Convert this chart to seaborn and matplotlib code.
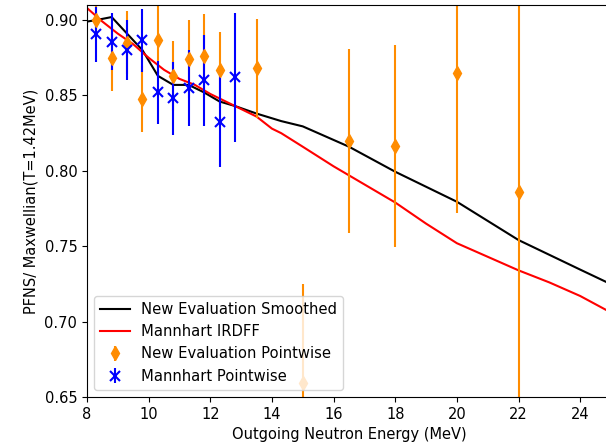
import matplotlib
matplotlib.use("Agg")
import matplotlib.pyplot as plt
import seaborn as sns
import numpy as np

# Smoothed evaluation (ratio to Maxwellian, T = 1.42 MeV)
smooth_e = [8.0, 8.3, 8.8, 9.3, 9.8, 10.3, 10.8, 11.3, 11.8, 12.3, 12.8, 13.5,
            14.3, 15.0, 16.5, 18.0, 20.0, 22.0, 24.0, 25.0]
smooth_v = [0.899, 0.900, 0.902, 0.891, 0.880, 0.863, 0.857, 0.857, 0.852, 0.846,
            0.843, 0.838, 0.833, 0.8295, 0.816, 0.7994, 0.7795, 0.7541, 0.7345, 0.7248]

# Mannhart IRDFF evaluation
irdff_e = [8.0, 8.5, 9.0, 9.5, 10.0, 10.5, 11.0, 11.5, 12.0, 12.5, 13.0, 13.5,
           14.0, 14.3, 15.0, 16.0, 17.0, 18.0, 19.0, 20.0, 21.0, 22.0, 23.0, 24.0, 25.0]
irdff_v = [0.908, 0.899, 0.891, 0.884, 0.875, 0.867, 0.861, 0.857, 0.851, 0.846,
           0.841, 0.836, 0.828, 0.825, 0.816, 0.803, 0.791, 0.779, 0.765, 0.752,
           0.743, 0.734, 0.726, 0.717, 0.706]

# New evaluation, pointwise values with uncertainties
new_e = [8.3, 8.8, 9.3, 9.8, 10.3, 10.8, 11.3, 11.8, 12.3, 13.5, 15.0, 16.5, 18.0, 20.0, 22.0]
new_v = [0.900, 0.875, 0.885, 0.8475, 0.887, 0.863, 0.874, 0.876, 0.867, 0.868,
         0.659, 0.8196, 0.8165, 0.865, 0.786]
new_err = [0.010, 0.022, 0.021, 0.022, 0.023, 0.0234, 0.026, 0.028, 0.025, 0.033,
           0.066, 0.061, 0.067, 0.093, 0.150]

# Mannhart pointwise values with uncertainties
mann_e = [8.3, 8.8, 9.3, 9.8, 10.3, 10.8, 11.3, 11.8, 12.3, 12.8]
mann_v = [0.8905, 0.8856, 0.8803, 0.8866, 0.852, 0.848, 0.855, 0.860, 0.8327, 0.862]
mann_err = [0.018, 0.0188, 0.020, 0.021, 0.021, 0.024, 0.025, 0.030, 0.030, 0.043]

plt.rcParams["font.size"] = 10.5

fig = plt.figure(figsize=(6.06, 4.46), dpi=100)
ax = fig.add_axes([87 / 606, 49 / 446, 524 / 606, 392 / 446])

sns.lineplot(x=smooth_e, y=smooth_v, color="black", linewidth=1.5,
             label="New Evaluation Smoothed", ax=ax)
sns.lineplot(x=irdff_e, y=irdff_v, color="red", linewidth=1.5,
             label="Mannhart IRDFF", ax=ax)

ax.errorbar(new_e, new_v, yerr=new_err, fmt="d", color="darkorange",
            markersize=7.5, label="New Evaluation Pointwise")
ax.errorbar(mann_e, mann_v, yerr=mann_err, fmt="x", color="blue",
            markersize=7, markeredgewidth=1.5, label="Mannhart Pointwise")

ax.set_xlim(8, 25)
ax.set_ylim(0.65, 0.91)
ax.set_xticks(np.arange(8, 25, 2))
ax.set_yticks([0.65, 0.70, 0.75, 0.80, 0.85, 0.90])
ax.set_xlabel("Outgoing Neutron Energy (MeV)")
ax.set_ylabel("PFNS/ Maxwellian(T=1.42MeV)")
ax.legend(loc="lower left", fontsize=10.6)

fig.savefig("out.png", dpi=100)
